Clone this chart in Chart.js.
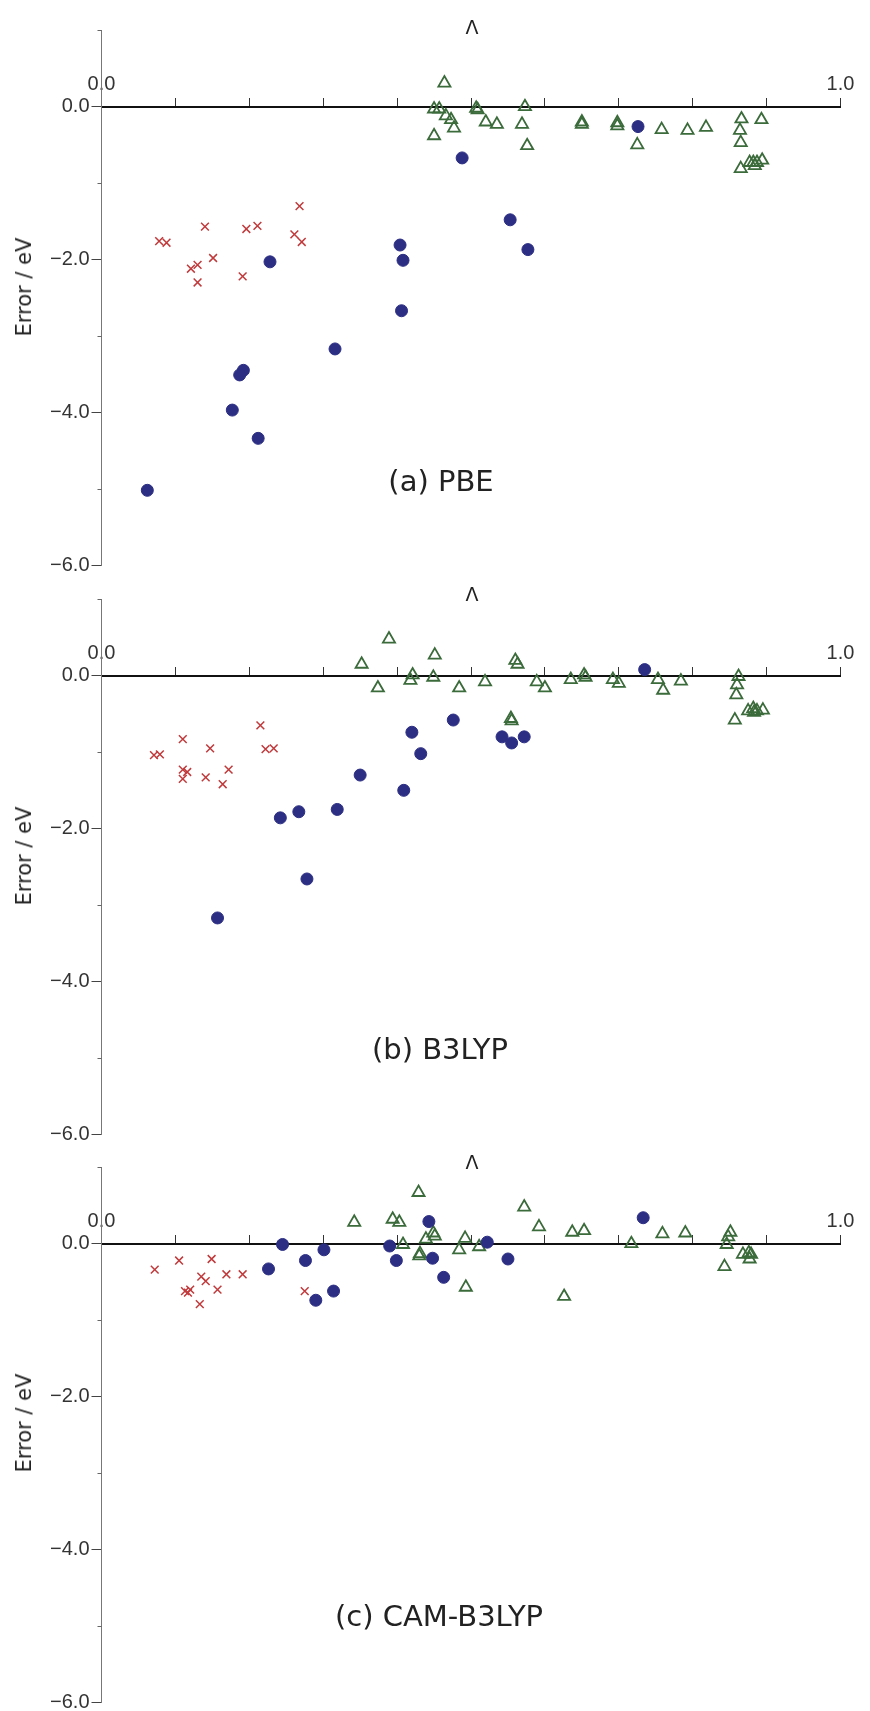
<!DOCTYPE html>
<html>
<head>
<meta charset="utf-8">
<script src="https://cdn.jsdelivr.net/npm/chart.js@4.4.1/dist/chart.umd.min.js"></script>
<style>
  html, body { margin: 0; padding: 0; background: #fff; overflow: hidden; }
  #wrap { position: relative; width: 870px; height: 1711px; }
  canvas { position: absolute; left: 0; }
  .lbl { position: absolute; font-family: "DejaVu Sans", sans-serif; color: #222; white-space: nowrap; transform: translate(-50%, -50%); }
  .panel { font-size: 29px; }
  .lam { font-size: 19px; }
  .ytitle { font-size: 21px; transform: translate(-50%, -50%) rotate(-90deg); }
</style>
</head>
<body>
<div id="wrap">
  <canvas id="pbe" width="870" height="574" style="top:0px"></canvas>
  <canvas id="b3lyp" width="870" height="574" style="top:568.5px"></canvas>
  <canvas id="cam" width="870" height="574" style="top:1137px"></canvas>

  <div class="lbl lam" style="left:472px;top:27px">Λ</div>
  <div class="lbl lam" style="left:472px;top:594px">Λ</div>
  <div class="lbl lam" style="left:472px;top:1162px">Λ</div>

  <div class="lbl ytitle" style="left:24px;top:287px">Error / eV</div>
  <div class="lbl ytitle" style="left:24px;top:856px">Error / eV</div>
  <div class="lbl ytitle" style="left:24px;top:1423px">Error / eV</div>

  <div class="lbl panel" style="left:441px;top:481px">(a) PBE</div>
  <div class="lbl panel" style="left:440px;top:1049px">(b) B3LYP</div>
  <div class="lbl panel" style="left:439px;top:1616px">(c) CAM-B3LYP</div>
</div>

<script>
// ---- data: lambda (x) and error in eV (y) ----

// (a) PBE
const pbeCrossLambda = [0.078, 0.088, 0.140, 0.121, 0.130, 0.151, 0.130, 0.191, 0.196, 0.211, 0.268, 0.261, 0.271];
const pbeCrossError  = [-1.76, -1.78, -1.57, -2.12, -2.07, -1.98, -2.30, -2.22, -1.60, -1.56, -1.30, -1.67, -1.77];
const pbeCircleLambda = [0.228, 0.404, 0.408, 0.488, 0.553, 0.577, 0.726, 0.406, 0.316, 0.192, 0.187, 0.177, 0.212, 0.062];
const pbeCircleError  = [-2.03, -1.81, -2.01, -0.67, -1.48, -1.87, -0.26, -2.67, -3.17, -3.45, -3.51, -3.97, -4.34, -5.02];
const pbeTriLambda = [0.464, 0.450, 0.457, 0.466, 0.473, 0.477, 0.450, 0.507, 0.509, 0.520, 0.535, 0.573, 0.569, 0.576,
                      0.650, 0.650, 0.698, 0.698, 0.725, 0.758, 0.793, 0.818, 0.866, 0.893, 0.864, 0.865, 0.865,
                      0.877, 0.882, 0.887, 0.894, 0.884];
const pbeTriError  = [0.31, -0.03, -0.03, -0.12, -0.17, -0.28, -0.38, -0.02, -0.04, -0.20, -0.23, 0.00, -0.23, -0.51,
                      -0.20, -0.23, -0.21, -0.25, -0.50, -0.30, -0.31, -0.27, -0.16, -0.17, -0.31, -0.47, -0.81,
                      -0.73, -0.73, -0.73, -0.70, -0.77];

// (b) B3LYP
const b3lypCrossLambda = [0.071, 0.079, 0.110, 0.110, 0.116, 0.110, 0.147, 0.141, 0.164, 0.172, 0.215, 0.222, 0.233];
const b3lypCrossError  = [-1.04, -1.03, -0.83, -1.23, -1.26, -1.35, -0.95, -1.33, -1.42, -1.23, -0.65, -0.96, -0.95];
const b3lypCircleLambda = [0.242, 0.267, 0.319, 0.350, 0.409, 0.420, 0.432, 0.476, 0.542, 0.555, 0.572, 0.735, 0.278, 0.157];
const b3lypCircleError  = [-1.86, -1.78, -1.75, -1.30, -1.50, -0.74, -1.02, -0.58, -0.80, -0.88, -0.80, 0.08, -2.66, -3.17];
const b3lypTriLambda = [0.352, 0.389, 0.374, 0.451, 0.421, 0.418, 0.449, 0.484, 0.519, 0.560, 0.563, 0.554, 0.555,
                        0.589, 0.600, 0.635, 0.653, 0.655, 0.692, 0.700, 0.753, 0.760, 0.784, 0.862, 0.860, 0.859,
                        0.857, 0.875, 0.882, 0.887, 0.895, 0.883];
const b3lypTriError  = [0.15, 0.48, -0.16, 0.27, 0.01, -0.06, -0.02, -0.16, -0.08, 0.20, 0.15, -0.56, -0.59,
                        -0.08, -0.16, -0.05, 0.01, -0.02, -0.05, -0.10, -0.05, -0.19, -0.07, -0.01, -0.12, -0.25,
                        -0.58, -0.46, -0.43, -0.46, -0.45, -0.48];

// (c) CAM-B3LYP
const camCrossLambda = [0.072, 0.105, 0.149, 0.135, 0.141, 0.169, 0.191, 0.113, 0.120, 0.117, 0.157, 0.133, 0.275];
const camCrossError  = [-0.34, -0.22, -0.20, -0.43, -0.49, -0.40, -0.40, -0.62, -0.60, -0.64, -0.60, -0.79, -0.62];
const camCircleLambda = [0.226, 0.245, 0.276, 0.301, 0.290, 0.314, 0.390, 0.399, 0.443, 0.448, 0.463, 0.522, 0.550, 0.733];
const camCircleError  = [-0.33, -0.01, -0.22, -0.08, -0.74, -0.62, -0.03, -0.22, 0.29, -0.19, -0.44, 0.02, -0.20, 0.34];
const camTriLambda = [0.342, 0.429, 0.394, 0.403, 0.408, 0.430, 0.431, 0.439, 0.449, 0.451, 0.484, 0.492, 0.493,
                      0.511, 0.572, 0.592, 0.626, 0.637, 0.653, 0.717, 0.759, 0.790, 0.851, 0.848, 0.846, 0.843,
                      0.868, 0.876, 0.879, 0.877];
const camTriError  = [0.28, 0.67, 0.32, 0.28, -0.01, -0.16, -0.13, 0.06, 0.14, 0.10, -0.08, 0.07, -0.57,
                      -0.04, 0.48, 0.22, -0.69, 0.15, 0.17, 0.00, 0.13, 0.14, 0.15, 0.09, -0.01, -0.30,
                      -0.14, -0.12, -0.14, -0.20];

// axes
const lambdaTicks = { min: 0, max: 1, step: 0.1 };
const errorTicks = { min: -6, max: 1, step: 1 };
const minorTickValues = [1, -1, -3, -5];

const toPoints = (xs, ys) => xs.map((x, i) => ({ x: x, y: ys[i] }));

// short unlabeled ticks on the odd values of the error axis
const minorTicks = {
  id: 'minorTicks',
  afterDraw(chart) {
    const y = chart.scales.y;
    const ctx = chart.ctx;
    ctx.save();
    ctx.strokeStyle = '#666';
    ctx.lineWidth = 1;
    minorTickValues.forEach(v => {
      const py = Math.round(y.getPixelForValue(v)) + 0.5;
      ctx.beginPath();
      ctx.moveTo(y.right - 4, py);
      ctx.lineTo(y.right, py);
      ctx.stroke();
    });
    ctx.restore();
  }
};

function makePanel(id, crossX, crossY, circX, circY, triX, triY) {
  new Chart(document.getElementById(id), {
    type: 'scatter',
    data: {
      datasets: [
        {
          label: 'crosses',
          data: toPoints(crossX, crossY),
          pointStyle: 'crossRot',
          pointRadius: 5.5,
          borderColor: '#c13a3c',
          borderWidth: 1.5,
          backgroundColor: 'rgba(0,0,0,0)'
        },
        {
          label: 'circles',
          data: toPoints(circX, circY),
          pointStyle: 'circle',
          pointRadius: 6,
          borderColor: '#2c2e84',
          backgroundColor: '#2c2e84',
          borderWidth: 1
        },
        {
          label: 'triangles',
          data: toPoints(triX, triY),
          pointStyle: 'triangle',
          pointRadius: 7,
          borderColor: '#3b6b3b',
          borderWidth: 1.8,
          backgroundColor: 'rgba(0,0,0,0)'
        }
      ]
    },
    options: {
      responsive: false,
      animation: false,
      events: [],
      layout: { padding: { top: 30.3, right: 29.5, bottom: 6.7, left: 0 } },
      plugins: { legend: { display: false }, tooltip: { enabled: false } },
      scales: {
        x: {
          type: 'linear',
          position: { y: 0 },
          min: lambdaTicks.min,
          max: lambdaTicks.max,
          border: { color: '#111', width: 2 },
          grid: { drawOnChartArea: false, tickLength: -10, tickColor: '#333', tickWidth: 1 },
          ticks: {
            stepSize: lambdaTicks.step,
            autoSkip: false,
            maxRotation: 0,
            padding: -24.5,
            color: '#333',
            font: { family: 'Liberation Sans', size: 20 },
            callback: v => (Math.abs(v) < 1e-9 ? '0.0' : (Math.abs(v - 1) < 1e-9 ? '1.0' : ''))
          },
          afterFit: s => { s.paddingLeft = 0; s.paddingRight = 0; s.paddingTop = 0; s.paddingBottom = 0; }
        },
        y: {
          type: 'linear',
          position: 'left',
          min: errorTicks.min,
          max: errorTicks.max,
          border: { color: '#777', width: 1 },
          grid: {
            drawOnChartArea: false,
            tickLength: 10,
            tickWidth: 1,
            tickColor: c => (c.tick && c.tick.value % 2 === 0 ? '#444' : 'rgba(0,0,0,0)')
          },
          ticks: {
            stepSize: errorTicks.step,
            padding: 2,
            color: '#333',
            font: { family: 'Liberation Sans', size: 20 },
            callback: v => (v % 2 === 0 ? (v === 0 ? '0.0' : '\u2212' + Math.abs(v).toFixed(1)) : '')
          },
          afterFit: s => { s.width = 101.5; s.paddingTop = 0; s.paddingBottom = 0; }
        }
      }
    },
    plugins: [minorTicks]
  });
}

makePanel('pbe', pbeCrossLambda, pbeCrossError, pbeCircleLambda, pbeCircleError, pbeTriLambda, pbeTriError);
makePanel('b3lyp', b3lypCrossLambda, b3lypCrossError, b3lypCircleLambda, b3lypCircleError, b3lypTriLambda, b3lypTriError);
makePanel('cam', camCrossLambda, camCrossError, camCircleLambda, camCircleError, camTriLambda, camTriError);
</script>
</body>
</html>
